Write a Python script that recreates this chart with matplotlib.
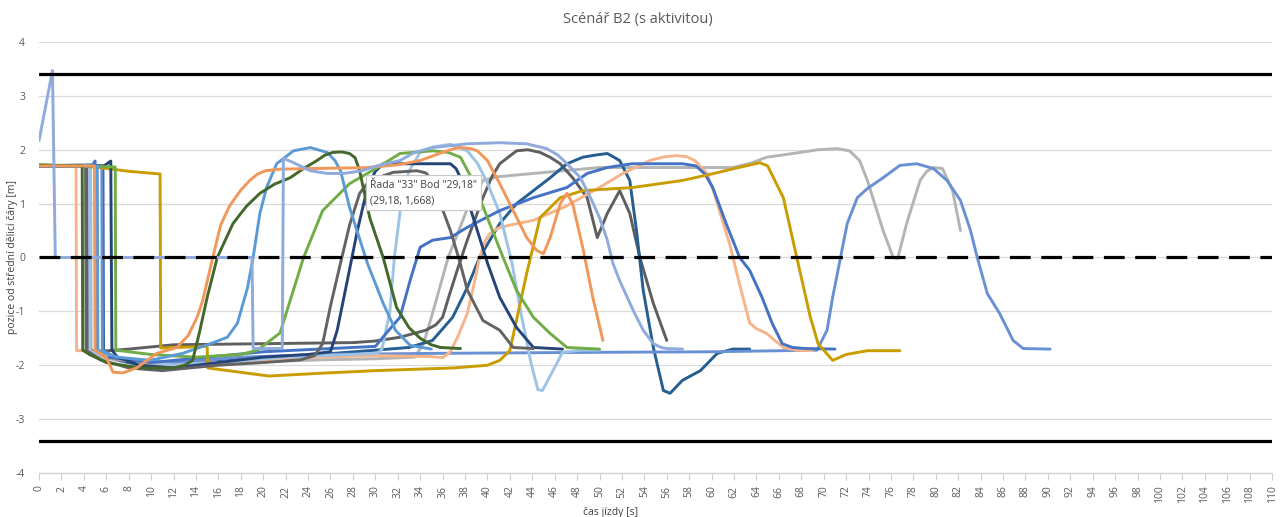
import matplotlib.pyplot as plt

# jízdy - scénář B2, pozice vozidla od střední dělicí čáry
t_lb1 = [0, 1.2, 1.45, 19.0, 19.1, 21.7, 21.8, 22.7, 24.2, 25.7, 27.2, 28.8, 30.3, 32.2, 33.5, 35.1, 38.2, 41.1, 43.5, 45.3, 46.3, 47.1, 48.3, 49.2, 50.0, 50.7, 51.2, 51.8, 53.0, 53.9, 54.8, 55.5, 56.0, 57.4]
y_lb1 = [2.17, 3.47, 0.0, 0.0, -1.69, -1.69, 1.84, 1.76, 1.61, 1.56, 1.56, 1.61, 1.71, 1.80, 1.95, 2.04, 2.11, 2.13, 2.11, 2.02, 1.9, 1.74, 1.48, 1.11, 0.74, 0.32, -0.11, -0.43, -0.98, -1.35, -1.6, -1.67, -1.69, -1.7]

t_peach = [0, 3.3, 3.35, 4.5, 6.0, 9.0, 12.0, 16.0, 20.0, 25.0, 30.0, 35.0, 36.0, 36.7, 37.4, 38.2, 38.8, 39.3, 39.8, 40.2, 41.0, 42.0, 44.1, 47.0, 50.0, 52.0, 54.5, 55.8, 56.9, 57.8, 58.5, 59.6, 60.3, 60.8, 61.6, 62.5, 63.4, 64.0, 64.9, 65.7, 66.4, 67.5, 69.0]
y_peach = [1.7, 1.7, -1.73, -1.73, -1.85, -1.95, -2.0, -1.95, -1.9, -1.85, -1.82, -1.84, -1.86, -1.75, -1.45, -1.04, -0.5, 0.0, 0.3, 0.44, 0.55, 0.6, 0.69, 0.95, 1.3, 1.55, 1.8, 1.87, 1.89, 1.87, 1.8, 1.56, 1.15, 0.8, 0.26, -0.5, -1.22, -1.32, -1.41, -1.55, -1.67, -1.72, -1.73]

t_dgreen = [0, 3.85, 3.9, 4.5, 6.0, 9.0, 12.0, 13.0, 13.7, 14.3, 15.0, 15.9, 17.3, 18.5, 19.7, 21.0, 22.4, 23.6, 24.8, 25.5, 26.2, 27.0, 27.7, 28.2, 28.6, 29.5, 30.7, 31.9, 33.0, 34.0, 35.0, 35.8, 37.6]
y_dgreen = [1.71, 1.71, -1.72, -1.8, -1.95, -2.05, -2.05, -2.0, -1.91, -1.4, -0.74, 0.0, 0.63, 0.95, 1.19, 1.36, 1.48, 1.65, 1.8, 1.9, 1.95, 1.96, 1.93, 1.85, 1.61, 0.74, 0.0, -0.93, -1.3, -1.5, -1.62, -1.67, -1.69]

t_dgray = [0, 4.15, 4.2, 5.5, 8.0, 11.0, 15.9, 20.0, 23.3, 24.6, 25.3, 26.0, 26.9, 27.7, 28.6, 29.3, 30.2, 31.6, 33.7, 34.5, 34.9, 35.8, 36.7, 37.5, 38.2, 39.6, 41.1, 42.3, 44.1]
y_dgray = [1.7, 1.7, -1.72, -1.9, -2.05, -2.1, -2.0, -1.95, -1.9, -1.82, -1.6, -0.9, -0.1, 0.6, 1.19, 1.38, 1.48, 1.58, 1.61, 1.57, 1.48, 1.0, 0.5, -0.05, -0.6, -1.17, -1.35, -1.67, -1.69]

t_dgray2 = [0, 4.3, 4.35, 5.0, 8.0, 12.0, 20.0, 28.0, 30.0, 32.2, 34.5, 35.4, 36.0, 36.6, 37.3, 38.2, 39.6, 40.4, 41.1, 42.6, 43.6, 44.7, 45.6, 46.5, 47.6, 48.9, 49.8, 50.7, 51.8, 52.7, 53.6, 54.8, 56.0]
y_dgray2 = [1.7, 1.7, -1.7, -1.75, -1.7, -1.62, -1.6, -1.58, -1.55, -1.48, -1.35, -1.25, -1.11, -0.7, -0.24, 0.32, 1.11, 1.5, 1.74, 1.98, 2.0, 1.95, 1.86, 1.74, 1.48, 1.11, 0.37, 0.82, 1.24, 0.82, 0.0, -0.85, -1.54]

t_lgray = [0, 4.6, 4.65, 5.5, 8.0, 12.0, 18.0, 25.0, 30.0, 33.5, 34.3, 35.1, 36.5, 38.2, 39.6, 41.0, 44.1, 50.0, 61.9, 63.5, 64.9, 67.9, 69.5, 71.2, 72.3, 73.2, 73.9, 75.3, 76.2, 76.6, 77.4, 78.6, 79.2, 79.8, 80.6, 81.5, 82.2]
y_lgray = [1.7, 1.7, -1.75, -1.85, -1.95, -2.0, -1.95, -1.9, -1.88, -1.85, -1.6, -1.04, 0.0, 0.9, 1.43, 1.5, 1.56, 1.67, 1.67, 1.75, 1.86, 1.95, 2.0, 2.02, 1.98, 1.8, 1.43, 0.5, 0.0, -0.02, 0.63, 1.43, 1.6, 1.67, 1.65, 1.24, 0.5]

t_lb2 = [0, 4.5, 4.55, 5.5, 8.0, 12.0, 16.0, 22.0, 28.0, 30.2, 30.6, 31.3, 31.7, 32.3, 33.0, 34.0, 35.1, 36.7, 38.2, 39.1, 39.9, 41.1, 42.2, 43.0, 43.9, 44.5, 44.9, 45.6, 46.7, 48.3, 50.0]
y_lb2 = [1.7, 1.7, -1.75, -1.8, -1.9, -2.0, -1.95, -1.85, -1.8, -1.78, -1.7, -1.0, 0.0, 1.0, 1.6, 1.95, 2.05, 2.1, 1.98, 1.75, 1.43, 0.82, -0.11, -1.04, -1.97, -2.45, -2.47, -2.2, -1.76, -1.72, -1.72]

t_orange = [0, 4.95, 5.0, 6.0, 6.6, 7.5, 8.7, 10.5, 12.3, 13.3, 14.1, 14.6, 15.5, 16.2, 17.0, 18.0, 18.8, 19.5, 20.2, 21.5, 24.0, 29.18, 32.0, 34.0, 36.0, 37.0, 37.6, 38.5, 39.1, 40.0, 41.1, 42.3, 43.5, 44.4, 45.0, 45.6, 46.5, 47.1, 47.6, 48.5, 49.4, 50.3]
y_orange = [1.7, 1.7, -1.72, -1.85, -2.13, -2.14, -2.05, -1.78, -1.67, -1.45, -1.11, -0.8, 0.0, 0.6, 0.96, 1.25, 1.43, 1.55, 1.61, 1.64, 1.65, 1.668, 1.72, 1.8, 1.95, 2.02, 2.04, 2.02, 1.98, 1.8, 1.37, 0.87, 0.37, 0.13, 0.07, 0.37, 1.0, 1.19, 1.0, 0.19, -0.74, -1.54]

t_blue = [0, 4.8, 5.0, 5.05, 6.0, 10.0, 15.0, 20.0, 25.0, 30.0, 31.0, 32.2, 33.1, 34.0, 35.1, 36.7, 38.2, 41.1, 44.1, 47.1, 48.9, 50.7, 52.9, 57.4, 58.6, 59.4, 60.1, 61.3, 62.5, 63.4, 64.5, 65.4, 66.3, 67.2, 68.4, 71.0]
y_blue = [1.7, 1.72, 1.79, -1.72, -1.85, -1.95, -1.85, -1.75, -1.7, -1.65, -1.4, -1.11, -0.43, 0.19, 0.32, 0.37, 0.56, 0.87, 1.11, 1.3, 1.56, 1.67, 1.74, 1.74, 1.7, 1.55, 1.3, 0.63, 0.0, -0.24, -0.74, -1.22, -1.6, -1.67, -1.69, -1.7]

t_mb = [0, 5.2, 5.25, 7.0, 9.9, 12.8, 15.3, 16.8, 17.7, 18.6, 19.1, 19.7, 20.3, 21.2, 22.7, 24.2, 25.7, 26.4, 26.9, 27.7, 29.3, 30.7, 31.8, 33.1, 35.0]
y_mb = [1.7, 1.7, -1.72, -1.85, -1.91, -1.78, -1.6, -1.48, -1.22, -0.56, 0.0, 0.82, 1.3, 1.74, 1.98, 2.04, 1.95, 1.8, 1.61, 0.93, -0.11, -0.85, -1.35, -1.63, -1.7]

t_blue2 = [0, 5.6, 5.65, 7.0, 12.0, 18.0, 25.0, 35.0, 50.0, 60.0, 69.4, 70.3, 70.8, 71.5, 72.1, 73.0, 73.9, 75.3, 76.8, 78.3, 79.8, 81.0, 82.2, 83.1, 83.7, 84.6, 85.7, 86.9, 87.8, 90.2]
y_blue2 = [1.7, 1.7, -1.72, -1.9, -1.95, -1.85, -1.8, -1.78, -1.76, -1.75, -1.72, -1.35, -0.74, 0.0, 0.63, 1.11, 1.28, 1.48, 1.71, 1.74, 1.65, 1.43, 1.06, 0.5, 0.0, -0.67, -1.04, -1.54, -1.69, -1.7]

t_teal = [0, 5.7, 5.75, 7.0, 10.0, 15.0, 20.0, 25.0, 30.0, 33.0, 35.1, 36.9, 38.2, 39.3, 41.1, 42.6, 44.1, 45.6, 47.1, 48.5, 49.6, 50.7, 51.8, 52.7, 53.3, 53.9, 54.8, 55.7, 56.3, 57.4, 59.0, 60.5, 61.9, 63.4]
y_teal = [1.7, 1.7, -1.72, -1.9, -2.05, -1.95, -1.85, -1.8, -1.72, -1.67, -1.54, -1.11, -0.56, 0.0, 0.63, 1.0, 1.24, 1.48, 1.74, 1.86, 1.9, 1.93, 1.8, 1.43, 0.5, -0.61, -1.67, -2.47, -2.52, -2.28, -2.1, -1.78, -1.7, -1.7]

t_navy = [0, 5.8, 6.4, 6.5, 7.0, 9.0, 12.0, 16.0, 20.0, 24.0, 26.0, 26.6, 27.5, 28.4, 29.3, 30.0, 30.7, 36.7, 37.2, 37.6, 39.1, 40.0, 41.1, 42.6, 44.1, 46.7]
y_navy = [1.7, 1.7, 1.79, -1.72, -1.85, -2.0, -2.05, -1.95, -1.85, -1.8, -1.75, -1.35, -0.43, 0.5, 1.3, 1.6, 1.74, 1.74, 1.65, 1.48, 0.5, -0.1, -0.74, -1.3, -1.67, -1.7]

t_green = [0, 6.8, 6.85, 10.0, 14.0, 18.0, 19.5, 21.5, 23.6, 25.3, 27.7, 30.2, 32.2, 35.1, 36.5, 37.6, 38.7, 40.2, 41.4, 42.6, 44.1, 45.6, 47.1, 50.0]
y_green = [1.72, 1.68, -1.72, -1.8, -1.85, -1.8, -1.72, -1.4, 0.0, 0.87, 1.37, 1.67, 1.93, 1.98, 1.95, 1.86, 1.43, 0.63, 0.0, -0.61, -1.11, -1.41, -1.67, -1.7]

t_gold = [0, 5.0, 8.0, 10.8, 10.85, 15.0, 15.05, 20.5, 25.0, 30.0, 37.0, 40.0, 41.1, 42.0, 43.5, 44.7, 46.5, 48.5, 53.0, 57.4, 60.0, 62.0, 64.3, 65.0, 66.4, 67.6, 68.8, 69.5, 70.8, 72.0, 73.9, 76.8]
y_gold = [1.72, 1.68, 1.6, 1.55, -1.68, -1.65, -2.05, -2.2, -2.15, -2.1, -2.05, -2.0, -1.91, -1.73, -0.3, 0.74, 1.11, 1.24, 1.3, 1.43, 1.55, 1.65, 1.76, 1.7, 1.11, 0.0, -1.1, -1.6, -1.91, -1.8, -1.73, -1.73]

series = [
    (t_lgray, y_lgray, '#B4B4B4'),
    (t_dgray2, y_dgray2, '#5F5F5F'),
    (t_teal, y_teal, '#255E91'),
    (t_blue2, y_blue2, '#6A90D4'),
    (t_peach, y_peach, '#F6B48A'),
    (t_lb2, y_lb2, '#9DC3E6'),
    (t_blue, y_blue, '#4472C4'),
    (t_gold, y_gold, '#C99C00'),
    (t_navy, y_navy, '#264478'),
    (t_dgray, y_dgray, '#636363'),
    (t_green, y_green, '#70AD47'),
    (t_mb, y_mb, '#5B9BD5'),
    (t_dgreen, y_dgreen, '#43682B'),
    (t_orange, y_orange, '#F1975A'),
    (t_lb1, y_lb1, '#8FAADC'),
]

x_ticks = list(range(0, 111, 2))
y_ticks = list(range(-4, 5))
limit_lines = [3.4, -3.4]

plt.rcParams['font.family'] = ['Open Sans', 'DejaVu Sans']
fig = plt.figure(figsize=(12.8, 5.17), dpi=100)
ax = fig.add_axes([0.0305, 0.0851, 0.9633, 0.8337])

for t, y, c in series:
    ax.plot(t, y, color=c, lw=2.1, solid_joinstyle='round', solid_capstyle='round', zorder=2)

for lim in limit_lines:
    ax.axhline(lim, color='black', lw=2.3, zorder=3)
ax.axhline(0, color='black', lw=2.3, ls=(0, (6.5, 3.3)), zorder=3)

ax.set_xlim(0, 110)
ax.set_ylim(-4, 4)
ax.set_xticks(x_ticks)
ax.set_xticklabels([str(v) for v in x_ticks], rotation=90, fontsize=7.5, color='#595959')
ax.set_yticks(y_ticks)
ax.set_yticklabels([str(v) for v in y_ticks], fontsize=7.5, color='#595959')
ax.tick_params(axis='x', length=5, width=0.8, color='#D0D0D0', pad=4)
ax.tick_params(axis='y', length=0, pad=10)
ax.grid(axis='y', color='#D9D9D9', lw=0.9, zorder=0)
for s in ['top', 'right', 'left']:
    ax.spines[s].set_visible(False)
ax.spines['bottom'].set_color('#D0D0D0')
ax.spines['bottom'].set_linewidth(0.9)

fig.text(0.498, 0.962, 'Scénář B2 (s aktivitou)', ha='center', va='center', fontsize=10.5, color='#595959')
fig.text(0.0095, 0.502, 'pozice od střední dělicí čáry [m]', rotation=90, ha='center', va='center', fontsize=7.5, color='#404040')
fig.text(0.477, 0.008, 'čas jízdy [s]', ha='center', va='center', fontsize=7.5, color='#404040')

# popisek bodu rady 33
ax.annotate('Řada "33" Bod "29,18"\n(29,18, 1,668)', xy=(29.18, 1.668), xytext=(29.55, 1.2),
            fontsize=7.5, color='#404040', va='center', ha='left', linespacing=1.5, zorder=5,
            bbox=dict(boxstyle='square,pad=0.4', fc='white', ec='#C8C8C8', lw=0.8))

fig.savefig('out.png', dpi=100)
